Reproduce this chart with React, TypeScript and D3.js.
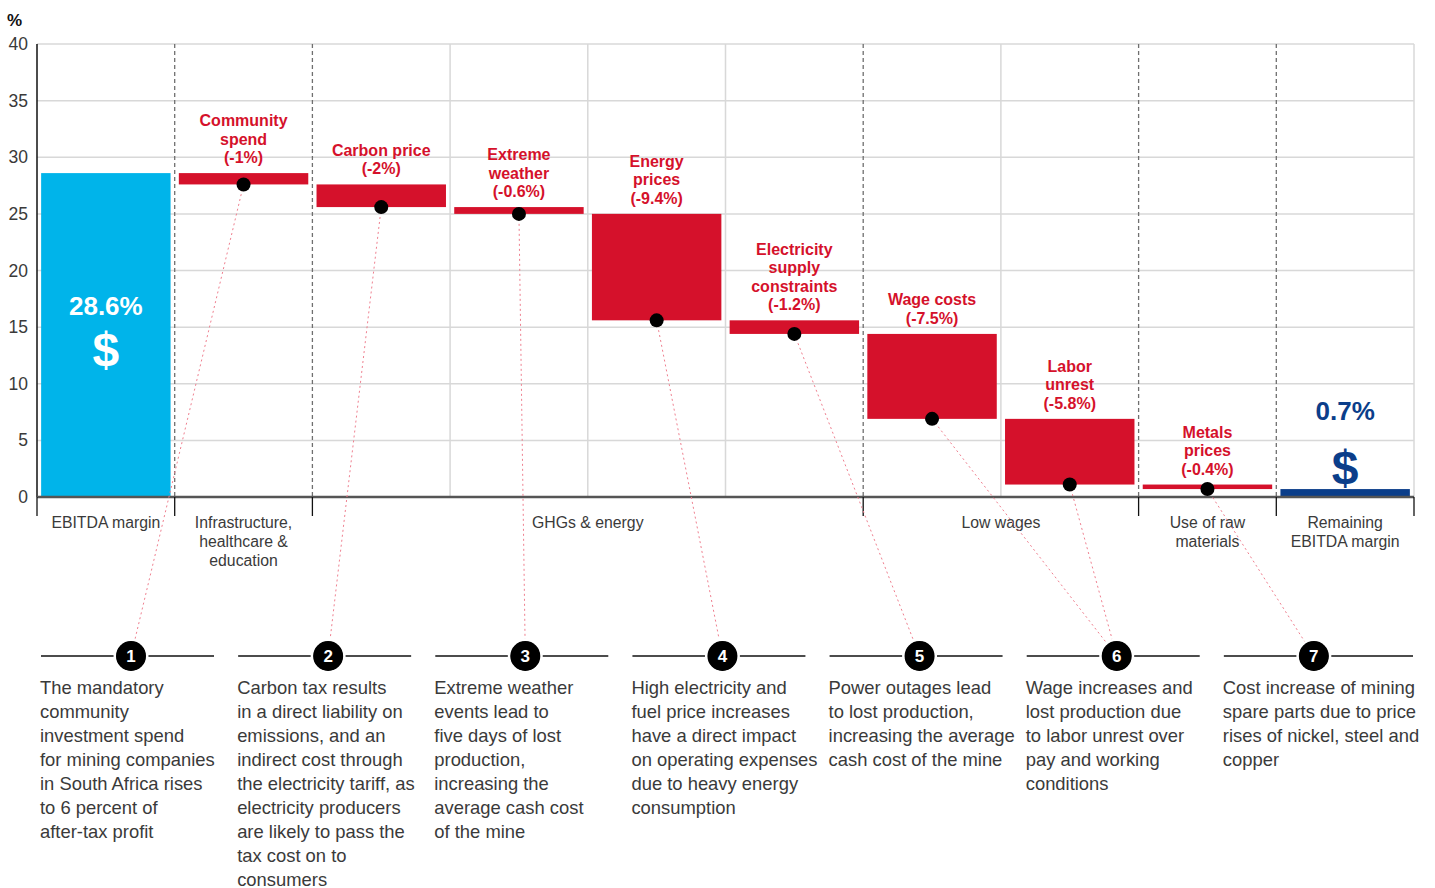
import React from "react";
import * as d3 from "d3";

const categories = [
  "EBITDA margin",
  "Community spend",
  "Carbon price",
  "Extreme weather",
  "Energy prices",
  "Electricity supply constraints",
  "Wage costs",
  "Labor unrest",
  "Metals prices",
  "Remaining EBITDA margin",
];
const values = [28.6, -1, -2, -0.6, -9.4, -1.2, -7.5, -5.8, -0.4, 0.7];
const barKinds = ["total", "delta", "delta", "delta", "delta", "delta", "delta", "delta", "delta", "final"];
const barLabelLines: string[][] = [
  [],
  ["Community", "spend", "(-1%)"],
  ["Carbon price", "(-2%)"],
  ["Extreme", "weather", "(-0.6%)"],
  ["Energy", "prices", "(-9.4%)"],
  ["Electricity", "supply", "constraints", "(-1.2%)"],
  ["Wage costs", "(-7.5%)"],
  ["Labor", "unrest", "(-5.8%)"],
  ["Metals", "prices", "(-0.4%)"],
  [],
];
const noteRefs = [null, 1, 2, 3, 4, 5, 6, 6, 7, null];

const groupLabels: string[][] = [
  ["EBITDA margin"],
  ["Infrastructure,", "healthcare &", "education"],
  ["GHGs & energy"],
  ["Low wages"],
  ["Use of raw", "materials"],
  ["Remaining", "EBITDA margin"],
];
const groupSpans = [1, 1, 4, 2, 1, 1];

const yTicks = [0, 5, 10, 15, 20, 25, 30, 35, 40];

const noteNumbers = [1, 2, 3, 4, 5, 6, 7];
const noteTexts: string[][] = [
  ["The mandatory", "community", "investment spend", "for mining companies", "in South Africa rises", "to 6 percent of", "after-tax profit"],
  ["Carbon tax results", "in a direct liability on", "emissions, and an", "indirect cost through", "the electricity tariff, as", "electricity producers", "are likely to pass the", "tax cost on to", "consumers"],
  ["Extreme weather", "events lead to", "five days of lost", "production,", "increasing the", "average cash cost", "of the mine"],
  ["High electricity and", "fuel price increases", "have a direct impact", "on operating expenses", "due to heavy energy", "consumption"],
  ["Power outages lead", "to lost production,", "increasing the average", "cash cost of the mine"],
  ["Wage increases and", "lost production due", "to labor unrest over", "pay and working", "conditions"],
  ["Cost increase of mining", "spare parts due to price", "rises of nickel, steel and", "copper"],
];

const FONT = "'Liberation Sans', Arial, sans-serif";
const RED = "#d5112b";
const BLUE = "#00b4ea";
const NAVY = "#0b3e8a";
const GRID = "#d8d8d8";
const TEXT = "#3a3a3a";

export default function App() {
  const W = 1435;
  const H = 888;
  const x0 = 37;
  const x1 = 1414;
  const x = d3.scaleBand<string>().domain(categories).range([x0, x1]).paddingInner(0.06).paddingOuter(0.03);
  const y = d3.scaleLinear().domain([0, 40]).range([497, 44]);
  const step = x.step();
  const boundary = (i: number) => x0 + i * step;

  // waterfall
  let running = 0;
  const bars = categories.map((c, i) => {
    const v = values[i];
    let lo: number, hi: number, end: number;
    if (barKinds[i] === "delta") {
      hi = running;
      lo = running + v;
      running = lo;
      end = lo;
    } else {
      lo = 0;
      hi = v;
      running = v;
      end = v;
    }
    return { c, i, v, lo, hi, end, kind: barKinds[i] };
  });

  // group boundaries
  const groupEdges: number[] = [0];
  groupSpans.forEach((s) => groupEdges.push(groupEdges[groupEdges.length - 1] + s));
  const dashedIdx = new Set(groupEdges.slice(1, -1));

  // notes
  const nx = d3.scaleBand<number>().domain(noteNumbers).range([38, 1418]).padding(0);
  const circleY = 656;
  const circleR = 16;
  const noteCircleX = (n: number) => (nx(n) as number) + 93;

  return (
    <div style={{ position: "absolute", left: 0, top: 0 }}>
      <svg width={W} height={H} style={{ display: "block", fontFamily: FONT }}>
        <rect width={W} height={H} fill="#fff" />
        {/* horizontal grid */}
        {yTicks.map((t) => (
          <line key={"g" + t} x1={x0} x2={x1} y1={y(t)} y2={y(t)} stroke={GRID} strokeWidth={1.5} />
        ))}
        {/* vertical column lines */}
        {d3.range(1, categories.length + 1).map((i) =>
          dashedIdx.has(i) ? (
            <line key={"v" + i} x1={boundary(i)} x2={boundary(i)} y1={y(40)} y2={y(0)} stroke="#6f6f6f" strokeWidth={1.3} strokeDasharray="4 3" />
          ) : (
            <line key={"v" + i} x1={boundary(i)} x2={boundary(i)} y1={y(40)} y2={y(0)} stroke={GRID} strokeWidth={1.5} />
          )
        )}
        {/* y ticks */}
        {yTicks.map((t) => (
          <text key={"t" + t} x={28} y={y(t) + 6} textAnchor="end" fontSize={17.5} fill={TEXT}>
            {t}
          </text>
        ))}
        <text x={7} y={26} fontSize={17} fontWeight="bold" fill="#111">%</text>
        {/* y axis */}
        <line x1={x0} x2={x0} y1={y(40)} y2={y(0)} stroke="#111" strokeWidth={1.5} />

        {/* bars */}
        {bars.map((b) => (
          <rect
            key={"b" + b.i}
            x={x(b.c)}
            width={x.bandwidth()}
            y={y(b.hi)}
            height={Math.max(1, y(b.lo) - y(b.hi))}
            fill={b.kind === "total" ? BLUE : b.kind === "final" ? NAVY : RED}
          />
        ))}

        {/* baseline */}
        <line x1={x0} x2={x1} y1={y(0)} y2={y(0)} stroke="#555" strokeWidth={2.5} />
        {groupEdges.map((g) => (
          <line key={"tk" + g} x1={boundary(g)} x2={boundary(g)} y1={y(0)} y2={y(0) + 19} stroke="#111" strokeWidth={1.3} />
        ))}
        {/* group labels */}
        {groupLabels.map((lines, gi) => {
          const cx = (boundary(groupEdges[gi]) + boundary(groupEdges[gi + 1])) / 2;
          return (
            <text key={"gl" + gi} textAnchor="middle" fontSize={15.8} fill={TEXT}>
              {lines.map((l, li) => (
                <tspan key={li} x={cx} y={528 + li * 19}>
                  {l}
                </tspan>
              ))}
            </text>
          );
        })}

        {/* bar labels */}
        {bars.map((b) => {
          const lines = barLabelLines[b.i];
          if (!lines.length) return null;
          const cx = (x(b.c) as number) + x.bandwidth() / 2;
          const base = y(b.hi) - 10;
          return (
            <text key={"bl" + b.i} textAnchor="middle" fontSize={16} fontWeight="bold" fill={RED}>
              {lines.map((l, li) => (
                <tspan key={li} x={cx} y={base - (lines.length - 1 - li) * 18.5}>
                  {l}
                </tspan>
              ))}
            </text>
          );
        })}

        {/* total labels */}
        {bars
          .filter((b) => b.kind === "total")
          .map((b) => {
            const cx = (x(b.c) as number) + x.bandwidth() / 2;
            return (
              <g key={"tot" + b.i} fill="#fff" fontWeight="bold" textAnchor="middle">
                <text x={cx} y={y(b.hi) + 142} fontSize={26}>{b.v + "%"}</text>
                <text x={cx} y={y(b.hi) + 193} fontSize={48}>$</text>
              </g>
            );
          })}
        {bars
          .filter((b) => b.kind === "final")
          .map((b) => {
            const cx = (x(b.c) as number) + x.bandwidth() / 2;
            return (
              <g key={"fin" + b.i} fill={NAVY} fontWeight="bold" textAnchor="middle">
                <text x={cx} y={y(b.hi) - 69} fontSize={26}>{b.v + "%"}</text>
                <text x={cx} y={y(b.hi) - 5} fontSize={48}>$</text>
              </g>
            );
          })}

        {/* leader lines */}
        {bars.map((b) => {
          const n = noteRefs[b.i];
          if (n == null) return null;
          const sx = (x(b.c) as number) + x.bandwidth() / 2;
          const sy = y(b.end);
          const cx = noteCircleX(n);
          const dx = sx - cx;
          const dy = sy - circleY;
          const len = Math.sqrt(dx * dx + dy * dy);
          const ex = cx + (dx / len) * circleR;
          const ey = circleY + (dy / len) * circleR;
          return (
            <line key={"ll" + b.i} x1={sx} y1={sy} x2={ex} y2={ey} stroke="#ef7f8f" strokeWidth={1} strokeDasharray="2 3" />
          );
        })}
        {/* dots */}
        {bars.map((b) => {
          if (noteRefs[b.i] == null) return null;
          const sx = (x(b.c) as number) + x.bandwidth() / 2;
          return <circle key={"d" + b.i} cx={sx} cy={y(b.end)} r={7} fill="#000" />;
        })}

        {/* notes */}
        {noteNumbers.map((n, ni) => {
          const tx = nx(n) as number;
          const cx = noteCircleX(n);
          const lineEnd = ni === noteNumbers.length - 1 ? 1413 : tx + 176;
          return (
            <g key={"n" + n}>
              <line x1={tx + 3} x2={lineEnd} y1={circleY} y2={circleY} stroke="#111" strokeWidth={1.3} />
              <circle cx={cx} cy={circleY} r={circleR} fill="#000" stroke="#fff" strokeWidth={3} />
              <circle cx={cx} cy={circleY} r={circleR - 1} fill="#000" />
              <text x={cx} y={circleY + 6} textAnchor="middle" fontSize={17} fontWeight="bold" fill="#fff">
                {n}
              </text>
              <text fontSize={18.4} fill={TEXT}>
                {noteTexts[ni].map((l, li) => (
                  <tspan key={li} x={tx + 2} y={694 + li * 24}>
                    {l}
                  </tspan>
                ))}
              </text>
            </g>
          );
        })}
      </svg>
    </div>
  );
}
